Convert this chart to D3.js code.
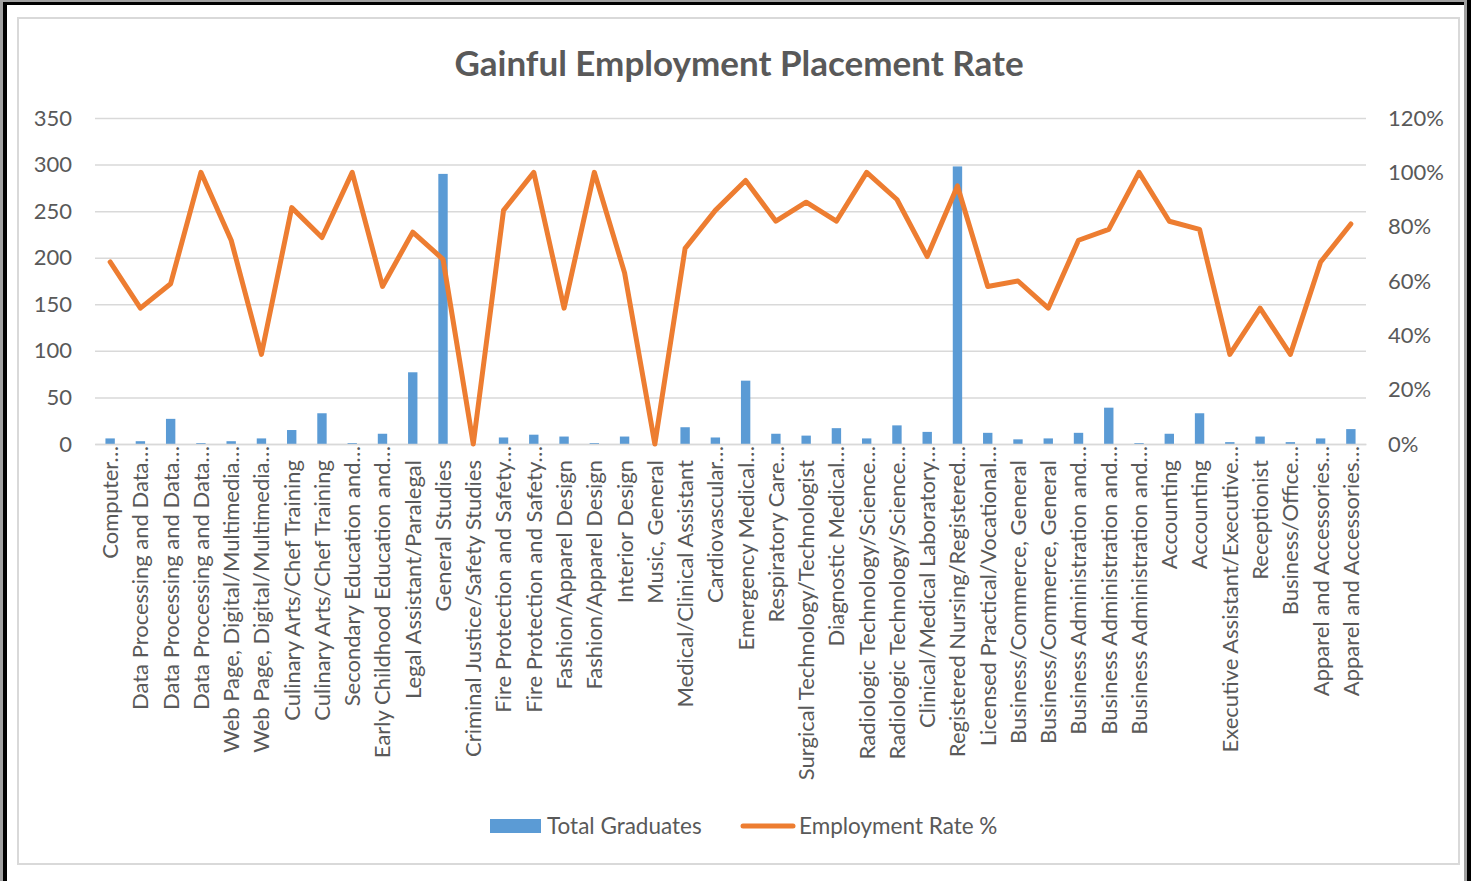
<!DOCTYPE html>
<html><head><meta charset="utf-8">
<script src="https://cdn.jsdelivr.net/npm/d3@7/dist/d3.min.js"></script>
<style>
body{margin:0;background:#fff}
svg{display:block}
text{font-family:Lato,'Open Sans',sans-serif;fill:#595959}
</style>
</head><body>
<svg id="chart" width="1471" height="881"></svg>
<script>
const titleText = "Gainful Employment Placement Rate";
const seriesNames = ["Total Graduates", "Employment Rate %"];
const categories = [
  "Computer…", "Data Processing and Data…", "Data Processing and Data…", "Data Processing and Data…",
  "Web Page, Digital/Multimedia…", "Web Page, Digital/Multimedia…", "Culinary Arts/Chef Training",
  "Culinary Arts/Chef Training", "Secondary Education and…", "Early Childhood Education and…",
  "Legal Assistant/Paralegal", "General Studies", "Criminal Justice/Safety Studies",
  "Fire Protection and Safety…", "Fire Protection and Safety…", "Fashion/Apparel Design",
  "Fashion/Apparel Design", "Interior Design", "Music, General", "Medical/Clinical Assistant",
  "Cardiovascular…", "Emergency Medical…", "Respiratory Care…", "Surgical Technology/Technologist",
  "Diagnostic  Medical…", "Radiologic Technology/Science…", "Radiologic Technology/Science…",
  "Clinical/Medical Laboratory…", "Registered Nursing/Registered…", "Licensed Practical/Vocational…",
  "Business/Commerce, General", "Business/Commerce, General", "Business Administration and…",
  "Business Administration and…", "Business Administration and…", "Accounting", "Accounting",
  "Executive Assistant/Executive…", "Receptionist", "Business/Office…",
  "Apparel and Accessories…", "Apparel and Accessories…"
];
const totalGraduates = [6, 3, 27, 1, 3, 6, 15, 33, 1, 11, 77, 290, 0, 7, 10, 8, 1, 8, 0, 18, 7, 68, 11, 9,
  17, 6, 20, 13, 298, 12, 5, 6, 12, 39, 1, 11, 33, 2, 8, 2, 6, 16];
const employmentRate = [0.67, 0.50, 0.59, 1.00, 0.75, 0.33, 0.87, 0.76, 1.00, 0.58, 0.78, 0.68, 0.00, 0.86,
  1.00, 0.50, 1.00, 0.63, 0.00, 0.72, 0.86, 0.97, 0.82, 0.89, 0.82, 1.00, 0.90, 0.69, 0.95, 0.58, 0.60,
  0.50, 0.75, 0.79, 1.00, 0.82, 0.79, 0.33, 0.50, 0.33, 0.67, 0.81];
const leftTicks = [0, 50, 100, 150, 200, 250, 300, 350];
const rightTicks = [0, 0.2, 0.4, 0.6, 0.8, 1.0, 1.2];

const W = 1471, H = 881;
const plot = {left: 95, right: 1366, top: 118, bottom: 444};
const barColor = "#5B9BD5", lineColor = "#ED7D31", gridColor = "#D9D9D9", textColor = "#595959";
const FONT = "Lato, 'Open Sans', sans-serif";
const svg = d3.select("#chart");

svg.append("rect").attr("width", W).attr("height", H).attr("fill", "#fff");
// outer frame
svg.append("rect").attr("x", 0).attr("y", 0).attr("width", 3).attr("height", H).attr("fill", "#a0a0a0");
svg.append("rect").attr("x", 3).attr("y", 0).attr("width", 4).attr("height", H).attr("fill", "#000");
svg.append("rect").attr("x", 0).attr("y", 0).attr("width", W).attr("height", 2).attr("fill", "#a0a0a0");
svg.append("rect").attr("x", 3).attr("y", 2).attr("width", W).attr("height", 3).attr("fill", "#000");
svg.append("rect").attr("x", 1464).attr("y", 0).attr("width", 3).attr("height", H).attr("fill", "#a0a0a0");
svg.append("rect").attr("x", 1467).attr("y", 0).attr("width", 4).attr("height", H).attr("fill", "#000");
// chart area border
svg.append("rect").attr("x", 18).attr("y", 18).attr("width", 1441).attr("height", 846)
  .attr("fill", "none").attr("stroke", gridColor).attr("stroke-width", 2);

const x = d3.scaleBand().domain(d3.range(categories.length))
  .range([plot.left, plot.right]).paddingInner(0.69).paddingOuter(0.345);
const yL = d3.scaleLinear().domain([0, 350]).range([plot.bottom, plot.top]);
const yR = d3.scaleLinear().domain([0, 1.2]).range([plot.bottom, plot.top]);

// gridlines
const grid = svg.append("g").attr("transform", `translate(${plot.left},0)`)
  .call(d3.axisLeft(yL).tickValues(leftTicks).tickSize(-(plot.right - plot.left)).tickFormat(""));
grid.select(".domain").remove();
grid.selectAll("line").attr("stroke", gridColor).attr("stroke-width", 1.5);

// left axis
const axL = svg.append("g").attr("transform", `translate(${plot.left},0)`)
  .call(d3.axisLeft(yL).tickValues(leftTicks).tickSize(0).tickPadding(23));
axL.select(".domain").remove();
axL.selectAll("text").attr("font-size", 22).attr("fill", textColor).style("font-family", FONT);

// right axis
const axR = svg.append("g").attr("transform", `translate(${plot.right},0)`)
  .call(d3.axisRight(yR).tickValues(rightTicks).tickSize(0).tickPadding(22).tickFormat(d3.format(".0%")));
axR.select(".domain").remove();
axR.selectAll("text").attr("font-size", 22).attr("fill", textColor).style("font-family", FONT);

// bars
svg.append("g").selectAll("rect").data(totalGraduates).join("rect")
  .attr("x", (d, i) => x(i)).attr("width", x.bandwidth())
  .attr("y", d => yL(d)).attr("height", d => yL(0) - yL(d))
  .attr("fill", barColor);

// bottom axis
const axB = svg.append("g").attr("transform", `translate(0,${plot.bottom})`)
  .call(d3.axisBottom(x).tickSize(0).tickFormat(i => categories[i]));
axB.select(".domain").attr("stroke", gridColor).attr("stroke-width", 1.5);
axB.selectAll("text")
  .attr("font-size", 22).attr("fill", textColor).style("font-family", FONT)
  .attr("text-anchor", "end")
  .attr("transform", "rotate(-90)")
  .attr("x", (i) => categories[i].endsWith("…") ? -2 : -16)
  .attr("y", 0).attr("dy", "0.36em");

// line
const line = d3.line().x((d, i) => x(i) + x.bandwidth() / 2).y(d => yR(d));
svg.append("path").datum(employmentRate).attr("d", line)
  .attr("fill", "none").attr("stroke", lineColor).attr("stroke-width", 5)
  .attr("stroke-linejoin", "round").attr("stroke-linecap", "round");

// title
svg.append("text").attr("x", 739).attr("y", 76).attr("text-anchor", "middle")
  .attr("font-size", 35).attr("font-weight", "bold").attr("fill", textColor).text(titleText);

// legend
const lg = svg.append("g");
lg.append("rect").attr("x", 490).attr("y", 819).attr("width", 51).attr("height", 14).attr("fill", barColor);
lg.append("text").attr("x", 547).attr("y", 834).attr("font-size", 22.5).attr("fill", textColor).text(seriesNames[0]);
lg.append("line").attr("x1", 743).attr("x2", 793).attr("y1", 826).attr("y2", 826)
  .attr("stroke", lineColor).attr("stroke-width", 5).attr("stroke-linecap", "round");
lg.append("text").attr("x", 799).attr("y", 834).attr("font-size", 22.5).attr("fill", textColor).text(seriesNames[1]);
</script>
</body></html>
